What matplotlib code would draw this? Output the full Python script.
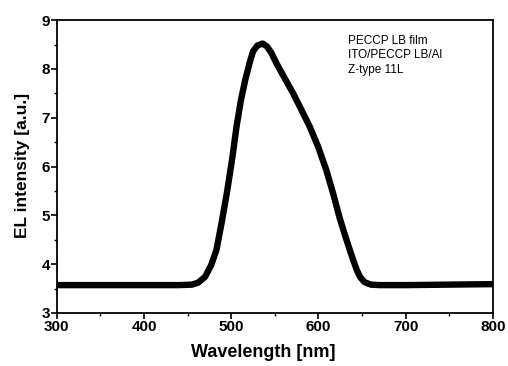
import matplotlib
matplotlib.use('Agg')
import matplotlib.pyplot as plt
from matplotlib.ticker import MultipleLocator

plt.rcParams['font.family'] = ['Liberation Sans', 'DejaVu Sans']

# EL spectrum
wavelength = [300, 350, 400, 440, 455, 462, 470, 477, 483, 489, 495, 501, 506, 511,
              516, 521, 525, 530, 536, 541, 546, 552, 561, 571, 580, 590, 600,
              609, 617, 624, 630, 636, 640, 644, 648, 653, 660, 670, 700, 750, 800]
intensity = [3.57, 3.57, 3.57, 3.57, 3.58, 3.62, 3.74, 3.98, 4.29, 4.85, 5.46, 6.15,
             6.81, 7.35, 7.77, 8.12, 8.36, 8.48, 8.52, 8.46, 8.33, 8.11, 7.82, 7.50,
             7.18, 6.82, 6.39, 5.93, 5.44, 4.97, 4.62, 4.29, 4.08, 3.88, 3.73, 3.63,
             3.58, 3.57, 3.57, 3.58, 3.59]

notes = ['PECCP LB film', 'ITO/PECCP LB/Al', 'Z-type 11L']

fig = plt.figure(figsize=(5.08, 3.66), dpi=100)
ax = fig.add_axes([0.112, 0.145, 0.858, 0.80])

ax.plot(wavelength, intensity, color='black', lw=4.6,
        solid_joinstyle='round', solid_capstyle='round')

ax.set_xlim(300, 800)
ax.set_ylim(3, 9)
ax.xaxis.set_major_locator(MultipleLocator(100))
ax.xaxis.set_minor_locator(MultipleLocator(50))
ax.yaxis.set_major_locator(MultipleLocator(1))
ax.yaxis.set_minor_locator(MultipleLocator(0.5))
ax.tick_params(which='major', direction='out', length=4, width=1.2,
               labelsize=11, pad=1)
ax.tick_params(which='minor', direction='out', length=2, width=1.0)
for lbl in ax.get_xticklabels() + ax.get_yticklabels():
    lbl.set_fontweight('bold')
for sp in ax.spines.values():
    sp.set_linewidth(1.3)

ax.set_xlabel('Wavelength [nm]', fontsize=13, fontweight='bold')
ax.set_ylabel('EL intensity [a.u.]', fontsize=12.5, fontweight='bold')
ax.xaxis.set_label_coords(0.474, -0.105)
ax.yaxis.set_label_coords(-0.062, 0.505)

ax.text(0.667, 0.95, '\n'.join(notes), transform=ax.transAxes,
        fontsize=8.5, va='top', ha='left', linespacing=1.3)

fig.savefig('out.png', dpi=100)
